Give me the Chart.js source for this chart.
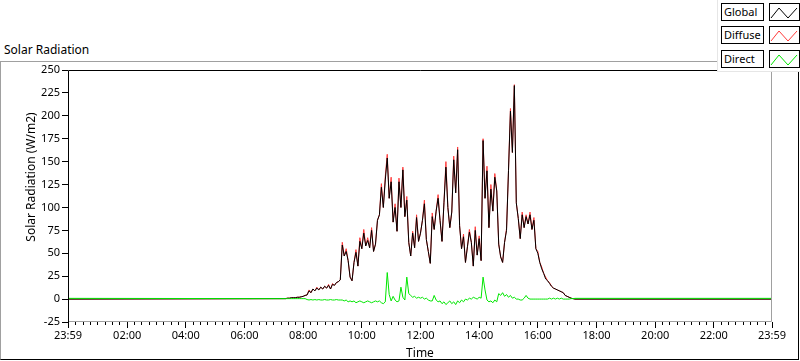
<!DOCTYPE html>
<html>
<head>
<meta charset="utf-8">
<script src="https://cdn.jsdelivr.net/npm/chart.js@4.4.1/dist/chart.umd.min.js"></script>
<style>
  body { margin: 0; background: #fff; font-family: "Noto Sans", sans-serif; }
  #wrap { position: relative; width: 800px; height: 361px; overflow: hidden; }
  #frame { position: absolute; left: 0; top: 61px; width: 797px; height: 297px;
           border: 1px solid #a0a0a0; border-right-color: #000; border-bottom-color: #000; }
  #chartTitle { position: absolute; left: 4px; top: 41px; font-size: 12px; color: #000; }
  canvas { position: absolute; left: 0; top: 0; }
  #legend { position: absolute; left: 717px; top: 0; width: 83px; height: 72px; background: #fff;
            border-left: 1px solid #e6e6e6; border-bottom: 1px solid #e6e6e6; box-sizing: border-box; }
  .item { position: absolute; left: 3px; width: 80px; height: 18px; }
  .lbl { position: absolute; left: 0; top: 0; width: 39px; height: 16px; border: 1px solid #000;
         font-size: 11px; line-height: 16px; padding-left: 2px; color: #000; }
  .ico { position: absolute; left: 48px; top: 0; width: 29px; height: 16px; border: 1px solid #000; }
</style>
</head>
<body>
<div id="wrap">
  <div id="frame"></div>
  <div id="chartTitle">Solar Radiation</div>
  <canvas id="chartCanvas" width="800" height="361"></canvas>
  <div id="legend"></div>
</div>
<script>
// minutes after midnight, -1 and 1439 are the 23:59 ends of the axis
const times = [-1,
  444,448,452,456,460,464,468,472,476,480,484,488,492,496,500,504,508,512,516,520,
  524,528,532,536,540,544,548,552,556,560,564,568,572,576,580,584,588,592,596,600,
  604,608,612,616,620,624,628,632,636,640,644,648,652,656,660,664,668,672,676,680,
  684,688,692,696,700,704,708,712,716,720,724,728,732,736,740,744,748,752,756,760,
  764,768,772,776,780,784,788,792,796,800,804,808,812,816,820,824,828,832,836,840,
  844,848,852,856,860,864,868,872,876,880,884,888,892,896,900,904,908,912,916,920,
  924,928,932,936,940,944,948,952,956,960,964,968,972,976,980,984,988,992,996,1000,
  1004,1008,1012,1016,1020,1024,1028,1032,1036,
  1439];

const globalVals = [0,
  0.5,1,1,1.5,1.5,1.5,2,2,2.5,3,4,4.5,9,7,11,9,12,10,13,11,
  14,12,15,11,16,15,18,19,21,59,47,52,42,24,20,40,51,36,63,55,
  72,58,64,56,75,52,60,86,92,122,100,130,154,110,128,84,100,74,128,100,
  141,90,108,62,47,72,56,89,63,72,86,104,65,52,39,90,76,96,110,86,
  63,105,144,100,78,95,152,116,163,80,55,68,40,57,73,62,36,75,48,66,
  42,173,110,140,78,120,96,133,118,60,46,40,62,75,140,205,160,233,105,88,
  66,92,78,90,82,92,76,86,55,50,40,33,28,22,20,17,14,12,11,10,
  9,8,7,4,3,2,1,0.5,0,
  0];

const diffuseVals = [0,
  0.5,1,1,1.5,1.5,1.5,2,2,2.5,3,4,4.5,10,7,11,9,13,10,13,11,
  14,12,16,11,17,15,18,19,21,62,47,55,42,24,20,40,54,36,67,55,
  76,58,67,56,78,52,60,86,92,126,100,134,158,110,133,84,104,74,132,100,
  144,90,112,62,47,74,56,92,63,72,86,108,65,52,39,94,76,96,114,86,
  63,105,150,100,78,95,156,116,166,80,55,71,40,57,76,62,36,79,48,69,
  42,175,110,145,78,125,96,137,118,60,46,40,62,77,140,208,160,234,105,88,
  66,95,78,92,82,95,76,89,55,52,40,35,28,24,20,18,14,12,11,10,
  9,8,7,4,3,2,1,0.5,0,
  0];

const directVals = [0.8,
  0.5,0.5,0.5,0.5,0.5,0.5,0.5,0.5,0.5,0.5,0.5,-0.5,-1,-0.5,-1,-0.5,-1,-0.5,-1,-1,
  -0.5,-1,-1,-0.5,-1,-1,-0.5,-1,-1,-1,-2,-1,-3,-2,-3,-2,-4,-3,-2,-3,
  -4,-3,-2,-3,-4,-3,-2,-3,-2,-4,-5,-3,29,5,-2,3,-1,-3,-2,13,
  2,-1,24,6,4,2,3,1,2,1,2,0,1,-1,-2,-2,4,-1,-3,-2,
  -5,-3,-6,-4,-2,-5,-3,-6,-2,-4,-1,-3,0,-1,1,0,2,1,0,2,
  1,24,10,-1,-3,-2,-4,-1,-3,6,4,7,3,5,2,4,1,2,0,0,
  -1,-1,1,4,1,0,0,0,0,0,0,0,0,0,0,1,0,1,0,1,
  0,1,0,0,0,0,0.5,0.5,0.8,
  0.8];

const seriesNames = ['Global', 'Diffuse', 'Direct'];
const seriesColors = ['#000000', '#ff3a3a', '#00e600'];

const yTicks = [-25, 0, 25, 50, 75, 100, 125, 150, 175, 200, 225, 250];
const yTitle = 'Solar Radiation (W/m2)';
const xMajorValues = [-1, 120, 240, 360, 480, 600, 720, 840, 960, 1080, 1200, 1320, 1439];
const xMajorLabels = ['23:59', '02:00', '04:00', '06:00', '08:00', '10:00', '12:00',
                      '14:00', '16:00', '18:00', '20:00', '22:00', '23:59'];

// minor ticks every 15 minutes between the labelled ones
let xTickValues = [];
for (let m = 15; m < 1440; m += 15) {
    if (m % 120 !== 0) xTickValues.push(m);
}
xTickValues = xTickValues.concat(xMajorValues).sort((a, b) => a - b);

const fontSmall = { family: '"Noto Sans", sans-serif', size: 11 };
const fontTitle = { family: '"Noto Sans", sans-serif', size: 12 };

// legend boxes
const legendTops = [3, 26, 50];
const legend = document.getElementById('legend');
seriesNames.forEach((name, i) => {
    const item = document.createElement('div');
    item.className = 'item';
    item.style.top = legendTops[i] + 'px';
    item.innerHTML = '<div class="lbl">' + name + '</div>' +
        '<svg class="ico" viewBox="0 0 29 16"><polyline points="1,14 9,4 18,14 27,4" fill="none" stroke="' +
        seriesColors[i] + '" stroke-width="1"/></svg>';
    legend.appendChild(item);
});

function toPoints(vals) {
    return times.map((t, i) => ({ x: t, y: vals[i] }));
}

// LabVIEW style frame: black top/left, grey bottom/right, plus the y axis name
const plotFrame = {
    id: 'plotFrame',
    afterDatasetsDraw(chart) {
        const a = chart.chartArea;
        const ctx = chart.ctx;
        ctx.save();
        ctx.lineWidth = 1;
        ctx.strokeStyle = '#a0a0a0';
        ctx.beginPath();
        ctx.moveTo(a.left, a.bottom - 0.5);
        ctx.lineTo(a.right - 0.5, a.bottom - 0.5);
        ctx.lineTo(a.right - 0.5, a.top);
        ctx.stroke();
        ctx.strokeStyle = '#000';
        ctx.beginPath();
        ctx.moveTo(a.left + 0.5, a.bottom);
        ctx.lineTo(a.left + 0.5, a.top + 0.5);
        ctx.lineTo(a.right, a.top + 0.5);
        ctx.stroke();

        ctx.translate(32, 177);
        ctx.rotate(-Math.PI / 2);
        ctx.fillStyle = '#000';
        ctx.font = '12px "Noto Sans", sans-serif';
        ctx.textAlign = 'center';
        ctx.textBaseline = 'middle';
        ctx.fillText(yTitle, 0, 0);
        ctx.restore();
    }
};

const ctx = document.getElementById('chartCanvas').getContext('2d');
const chartInstance = new Chart(ctx, {
    type: 'line',
    data: {
        datasets: [
            { label: seriesNames[2], data: toPoints(directVals), borderColor: seriesColors[2], order: 0 },
            { label: seriesNames[0], data: toPoints(globalVals), borderColor: seriesColors[0], order: 1 },
            { label: seriesNames[1], data: toPoints(diffuseVals), borderColor: seriesColors[1], order: 2 }
        ]
    },
    options: {
        responsive: false,
        animation: false,
        devicePixelRatio: 1,
        layout: { padding: { left: 0, top: 70, right: 28, bottom: 0 } },
        elements: {
            line: { borderWidth: 1, tension: 0 },
            point: { radius: 0 }
        },
        plugins: {
            legend: { display: false },
            tooltip: { enabled: false }
        },
        scales: {
            x: {
                type: 'linear',
                min: -1,
                max: 1439,
                afterBuildTicks: scale => { scale.ticks = xTickValues.map(v => ({ value: v })); },
                afterFit: scale => { scale.height = 39; },
                ticks: {
                    autoSkip: false,
                    maxRotation: 0,
                    color: '#000',
                    font: fontSmall,
                    padding: 1,
                    callback: value => {
                        const k = xMajorValues.indexOf(value);
                        return k >= 0 ? xMajorLabels[k] : '';
                    }
                },
                grid: {
                    drawOnChartArea: false,
                    tickLength: 6,
                    tickColor: '#000',
                    tickBorderDash: c => (c.tick && xMajorValues.indexOf(c.tick.value) >= 0) ? [] : [3, 20]
                },
                border: { display: false },
                title: { display: true, text: 'Time', color: '#000', font: fontTitle, padding: 0 }
            },
            y: {
                min: -25,
                max: 250,
                afterBuildTicks: scale => { scale.ticks = yTicks.map(v => ({ value: v })); },
                afterFit: scale => { scale.width = 68; },
                ticks: { color: '#000', font: fontSmall, padding: 2 },
                grid: { drawOnChartArea: false, tickLength: 6, tickColor: '#000' },
                border: { display: false }
            }
        }
    },
    plugins: [plotFrame]
});
</script>
</body>
</html>
